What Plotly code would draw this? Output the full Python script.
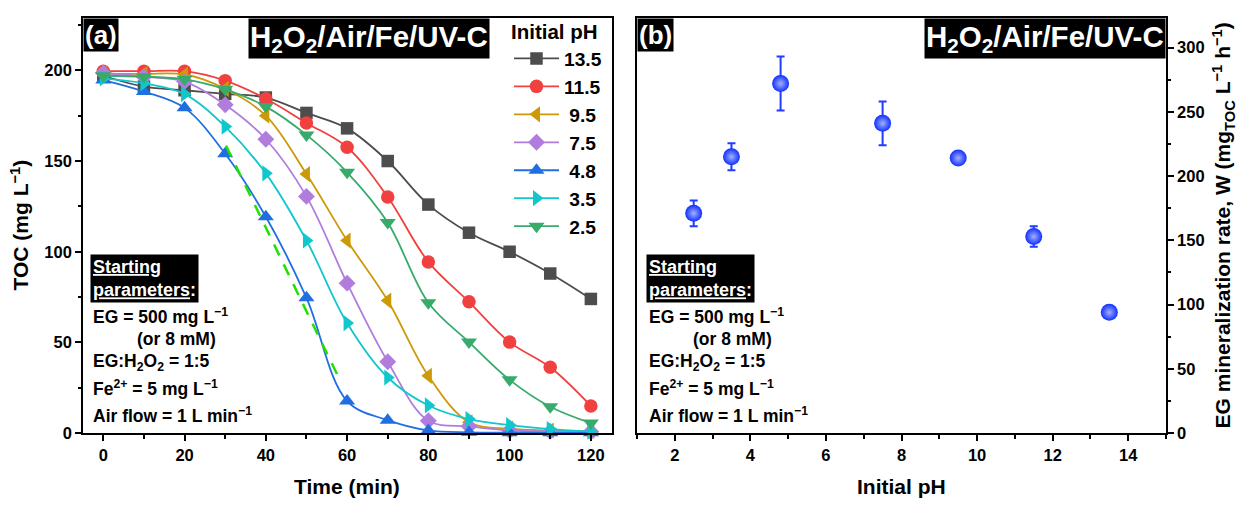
import plotly.graph_objects as go

# ---------------- data ----------------
time_min = [0, 10, 20, 30, 40, 50, 60, 70, 80, 90, 100, 110, 120]
ph_labels = ["13.5", "11.5", "9.5", "7.5", "4.8", "3.5", "2.5"]
toc_ph135 = [197, 191, 189, 187, 185, 176.5, 168, 150, 126, 110.5, 100, 88, 74]
toc_ph115 = [199.5, 199.5, 199.5, 194.3, 184.3, 171, 157.6, 130.2, 94.4, 72.4, 50.2, 36.3, 15]
toc_ph95 = [198, 198, 197.7, 189.8, 175, 142.8, 106.2, 73.1, 31.6, 6, 2.5, 1.5, 1.2]
toc_ph75 = [198.5, 196.5, 193.8, 181, 162, 130.5, 82.7, 39.4, 6.9, 3.8, 1.5, 1, 0.8]
toc_ph48 = [194.6, 188.3, 179.3, 154, 119.3, 74.6, 17.7, 7.2, 1.5, 0.5, 0.3, 0.2, 0.2]
toc_ph35 = [195.5, 192.8, 186.9, 169, 143.2, 106.2, 60.7, 30.7, 15.3, 7.8, 4.5, 2.3, 0.9]
toc_ph25 = [197, 196.5, 195, 189.5, 180, 164.4, 143.8, 116.1, 71.9, 50.2, 29.4, 14.6, 5.6]

# linear (pseudo zero-order) segment for pH 4.8
fit_time = [30.2, 58.4]
fit_toc = [158.5, 28.5]

ph_values = [2.5, 3.5, 4.8, 7.5, 9.5, 11.5, 13.5]
rate_w = [171, 215, 272, 241, 214, 153, 94]
rate_err = [10, 10.5, 21, 17, 0, 8, 0]

# ---------------- style ----------------
FONT = "Liberation Sans, Arial, sans-serif"
W, H = 1240, 509
colors = ["#4d4d4d", "#f04040", "#cc9a06", "#b07ddd", "#1f6fe0", "#12c7cc", "#38ab6c"]
symbols = ["square", "circle", "triangle-left", "diamond", "triangle-up", "triangle-right", "triangle-down"]
msizes = [12.5, 13.5, 14, 13, 14, 14, 14]
series = [toc_ph135, toc_ph115, toc_ph95, toc_ph75, toc_ph48, toc_ph35, toc_ph25]


def px(x):
    return x / W


def py(y):
    return 1 - y / H


fig = go.Figure()

for lab, ys, c, s, ms in zip(ph_labels, series, colors, symbols, msizes):
    name = lab if len(lab) > 3 else "\u00a0" + lab
    fig.add_trace(go.Scatter(
        x=time_min, y=ys, mode="lines+markers", name=name, legendgroup=lab,
        line=dict(color=c, width=1.8, shape="spline", smoothing=1.0),
        marker=dict(symbol=s, size=ms, color=c, line=dict(width=0)),
        cliponaxis=False, xaxis="x", yaxis="y"))

fig.add_trace(go.Scatter(
    x=fit_time, y=fit_toc, mode="lines", showlegend=False,
    line=dict(color="#22e000", width=2.5, dash="12px,10px"),
    xaxis="x", yaxis="y"))

fig.add_trace(go.Scatter(
    x=ph_values, y=rate_w, mode="markers", showlegend=False,
    marker=dict(size=17, color="#1030ff", gradient=dict(type="radial", color="#a4b0ff"),
                line=dict(width=0)),
    error_y=dict(type="data", array=rate_err, visible=True, color="#1f3cff",
                 thickness=2, width=4),
    cliponaxis=False, xaxis="x2", yaxis="y2"))

tickfont = dict(family=FONT, size=16.5, color="black", weight="bold")
common = dict(showline=True, linecolor="black", linewidth=1.6, mirror=True,
              showgrid=False, zeroline=False, ticks="outside", ticklen=6,
              tickwidth=1.5, tickcolor="black", tickfont=tickfont)
ydom = [py(441), py(18)]

fig.update_layout(
    width=W, height=H, margin=dict(l=0, r=0, t=0, b=0),
    paper_bgcolor="white", plot_bgcolor="white",
    font=dict(family=FONT, color="black"),
    xaxis=dict(domain=[px(83), px(612)], range=[-5, 125.2], anchor="y", tick0=0, dtick=20,
               minor=dict(dtick=10, ticks="outside", ticklen=3.5, tickwidth=1.5, tickcolor="black"),
               **common),
    yaxis=dict(domain=ydom, range=[0, 229], anchor="x", tick0=0, dtick=50,
               minor=dict(dtick=25, ticks="outside", ticklen=3.5, tickwidth=1.5, tickcolor="black"),
               **common),
    xaxis2=dict(domain=[px(637), px(1166)], range=[1, 15], anchor="y2", tick0=0, dtick=2,
                minor=dict(dtick=1, ticks="outside", ticklen=3.5, tickwidth=1.5, tickcolor="black"),
                **common),
    yaxis2=dict(domain=ydom, range=[0, 323.2], anchor="x2", side="right", tick0=0, dtick=50,
                minor=dict(dtick=25, ticks="outside", ticklen=3.5, tickwidth=1.5, tickcolor="black"),
                **common),
    legend=dict(x=px(509), y=py(13), xanchor="left", yanchor="top",
                bgcolor="rgba(0,0,0,0)", borderwidth=0, tracegroupgap=0, itemwidth=45,
                font=dict(family=FONT, size=19.2, color="black", weight="bold"),
                title=dict(text="Initial pH", font=dict(family=FONT, size=20.5, color="black", weight="bold"))),
    showlegend=True,
)

ann = []


def box(text, x, y, xanchor, size, pad=1):
    ann.append(dict(text=text, xref="paper", yref="paper", x=px(x), y=py(y),
                    xanchor=xanchor, yanchor="top", showarrow=False, bgcolor="black",
                    borderpad=pad, align="left",
                    font=dict(family=FONT, size=size, color="white", weight="bold")))


def label(text, x, y, size=17.5, xanchor="left", angle=0):
    ann.append(dict(text=text, xref="paper", yref="paper", x=px(x), y=py(y),
                    xanchor=xanchor, yanchor="middle", showarrow=False, textangle=angle,
                    font=dict(family=FONT, size=size, color="black", weight="bold")))


params = ["EG = 500 mg L<sup>\u22121</sup>", "(or 8 mM)",
          "EG:H<sub>2</sub>O<sub>2</sub> = 1:5",
          "Fe<sup>2+</sup> = 5 mg L<sup>\u22121</sup>",
          "Air flow = 1 L min<sup>\u22121</sup>"]
param_y = [322, 345, 369, 395, 422]

for x0, right in [(83, 490), (637, 1166)]:
    box("(a)" if x0 == 83 else "(b)", x0, 18, "left", 26)
    box("H<sub>2</sub>O<sub>2</sub>/Air/Fe/UV-C", right, 18, "right", 29.5)
    bx = x0 + 7 if x0 == 83 else x0 + 9
    box("<u>Starting</u><br><u>parameters</u>:", bx, 259, "left", 18, pad=2)
    for t, yy in zip(params, param_y):
        label(t, bx + (45 if t.startswith("(") else 1), yy)

label("Time (min)", 347.5, 495, size=21, xanchor="center")
label("Initial pH", 901.5, 495, size=21, xanchor="center")
label("TOC (mg L<sup>\u22121</sup>)", 20, 229.5, size=21, xanchor="center", angle=-90)
label("EG mineralization rate, W (mg<sub>TOC</sub> L<sup>\u22121</sup> h<sup>\u22121</sup>)",
      1223, 229.5, size=21, xanchor="center", angle=-90)

fig.update_layout(annotations=ann)
fig.write_html("out.html")
